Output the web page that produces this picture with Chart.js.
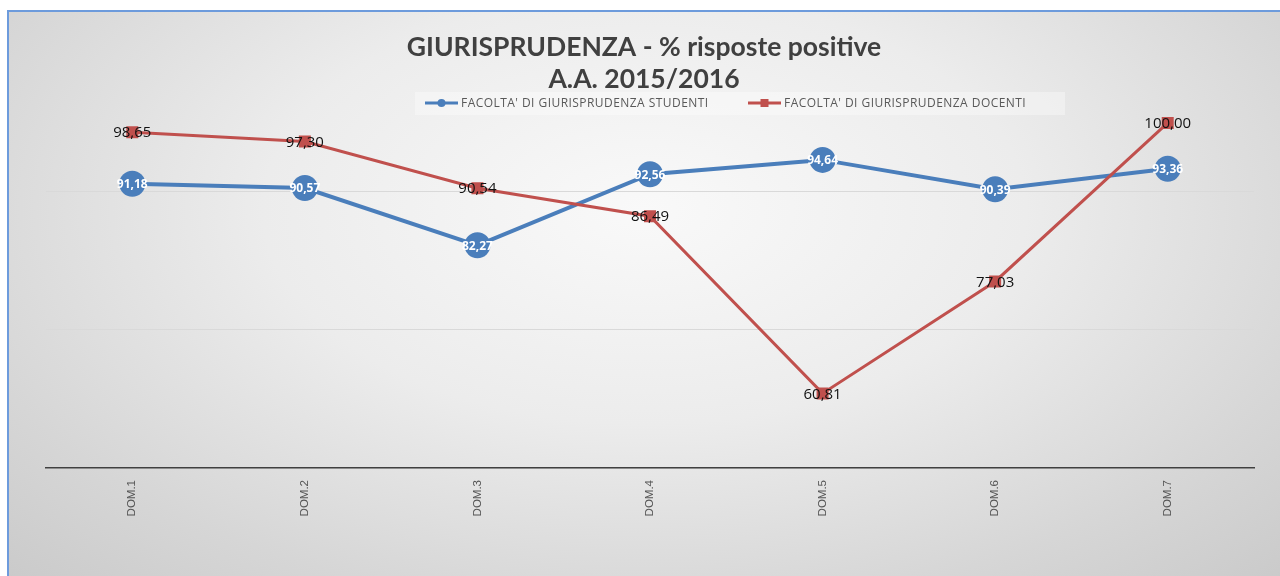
<!DOCTYPE html>
<html>
<head>
<meta charset="utf-8">
<script src="https://cdn.jsdelivr.net/npm/chart.js@4.4.1/dist/chart.umd.min.js"></script>
<style>
  html, body { margin: 0; padding: 0; background: #ffffff; width: 1280px; height: 576px; overflow: hidden; }
  #frame {
    position: absolute; left: 7px; top: 10px;
    width: 1271px; height: 564px;
    border-left: 2px solid #6d9bdc; border-top: 2px solid #6d9bdc;
    background: radial-gradient(ellipse 75% 95% at 50% 35%, #f9f9f9 0%, #ececec 40%, #d6d6d6 75%, #c8c8c8 100%);
  }
  canvas { display: block; }
</style>
</head>
<body>
<div id="frame"><canvas id="c" width="1271" height="564"></canvas></div>
<script>
// ---- data ----
const categories = ['DOM.1', 'DOM.2', 'DOM.3', 'DOM.4', 'DOM.5', 'DOM.6', 'DOM.7'];
const studenti = [91.18, 90.57, 82.27, 92.56, 94.64, 90.39, 93.36];
const docenti = [98.65, 97.30, 90.54, 86.49, 60.81, 77.03, 100.00];
const seriesNames = ["FACOLTA' DI GIURISPRUDENZA STUDENTI", "FACOLTA' DI GIURISPRUDENZA DOCENTI"];
const titleLines = ['GIURISPRUDENZA - % risposte positive', 'A.A. 2015/2016'];
const yGridValues = [50, 70, 90];

const BLUE = '#4a7ebb';
const RED = '#c0504d';

const fmt = v => v.toFixed(2).replace('.', ',');

const dataLabels = {
  id: 'dataLabels',
  afterDatasetsDraw(chart) {
    const ctx = chart.ctx;
    ctx.save();
    ctx.textAlign = 'center';
    ctx.textBaseline = 'middle';
    chart.data.datasets.forEach((ds, i) => {
      const meta = chart.getDatasetMeta(i);
      meta.data.forEach((pt, j) => {
        if (i === 0) {
          ctx.font = 'bold 12px "Open Sans"';
          ctx.fillStyle = '#ffffff';
        } else {
          ctx.font = '15px "Open Sans"';
          ctx.fillStyle = '#111111';
        }
        ctx.fillText(fmt(ds.data[j]), pt.x, pt.y + 1);
      });
    });
    ctx.restore();
  }
};

const customLegend = {
  id: 'customLegend',
  afterDraw(chart) {
    const ctx = chart.ctx;
    ctx.save();
    ctx.fillStyle = 'rgba(255,255,255,0.35)';
    ctx.fillRect(406, 80, 650, 23);
    const y = 91;
    const items = [
      { x: 416, color: BLUE, style: 'circle', text: seriesNames[0] },
      { x: 739, color: RED, style: 'rect', text: seriesNames[1] }
    ];
    items.forEach(it => {
      ctx.strokeStyle = it.color;
      ctx.lineWidth = 3;
      ctx.beginPath();
      ctx.moveTo(it.x, y);
      ctx.lineTo(it.x + 33, y);
      ctx.stroke();
      ctx.fillStyle = it.color;
      const cx = it.x + 16.5;
      if (it.style === 'circle') {
        ctx.beginPath();
        ctx.arc(cx, y, 4, 0, Math.PI * 2);
        ctx.fill();
      } else {
        ctx.fillRect(cx - 4, y - 4, 8, 8);
      }
      ctx.font = '12px "Open Sans"';
      if ('letterSpacing' in ctx) ctx.letterSpacing = '0.45px';
      ctx.fillStyle = '#595959';
      ctx.textAlign = 'left';
      ctx.textBaseline = 'middle';
      ctx.fillText(it.text, it.x + 36, y + 0.5);
    });
    ctx.restore();
  }
};

new Chart(document.getElementById('c'), {
  type: 'line',
  data: {
    labels: categories,
    datasets: [
      {
        label: seriesNames[0],
        data: studenti,
        borderColor: BLUE,
        backgroundColor: BLUE,
        borderWidth: 4,
        pointRadius: 13,
        pointHoverRadius: 13,
        pointBorderWidth: 0,
        pointStyle: 'circle',
        tension: 0,
        order: 1
      },
      {
        label: seriesNames[1],
        data: docenti,
        borderColor: RED,
        backgroundColor: RED,
        borderWidth: 3,
        pointRadius: 8.5,
        pointHoverRadius: 8.5,
        pointBorderWidth: 0,
        pointStyle: 'rect',
        tension: 0,
        order: 0
      }
    ]
  },
  options: {
    responsive: false,
    animation: false,
    events: [],
    layout: { padding: { left: 25, right: 26, top: 0, bottom: 0 } },
    plugins: {
      legend: { display: false },
      tooltip: { enabled: false },
      title: {
        display: true,
        text: titleLines,
        color: '#404040',
        font: { family: 'Lato', size: 26.5, weight: 'bold', lineHeight: 1.2 },
        padding: { top: 20, bottom: 20.4 }
      }
    },
    scales: {
      x: {
        type: 'category',
        offset: true,
        grid: { display: false, drawTicks: false },
        border: { display: true, color: '#404040', width: 1.5 },
        ticks: {
          maxRotation: 90, minRotation: 90,
          padding: 12,
          color: '#555555',
          font: { family: '"Liberation Sans", Arial', size: 11.5 }
        },
        afterFit: s => { s.height = 108; }
      },
      y: {
        min: 50, max: 101,
        afterBuildTicks: s => { s.ticks = yGridValues.map(v => ({ value: v })); },
        afterFit: s => { s.width = 12; },
        ticks: { display: false },
        grid: { color: '#d9d9d9', lineWidth: 1, drawTicks: false },
        border: { display: false }
      }
    }
  },
  plugins: [dataLabels, customLegend]
});
</script>
</body>
</html>
